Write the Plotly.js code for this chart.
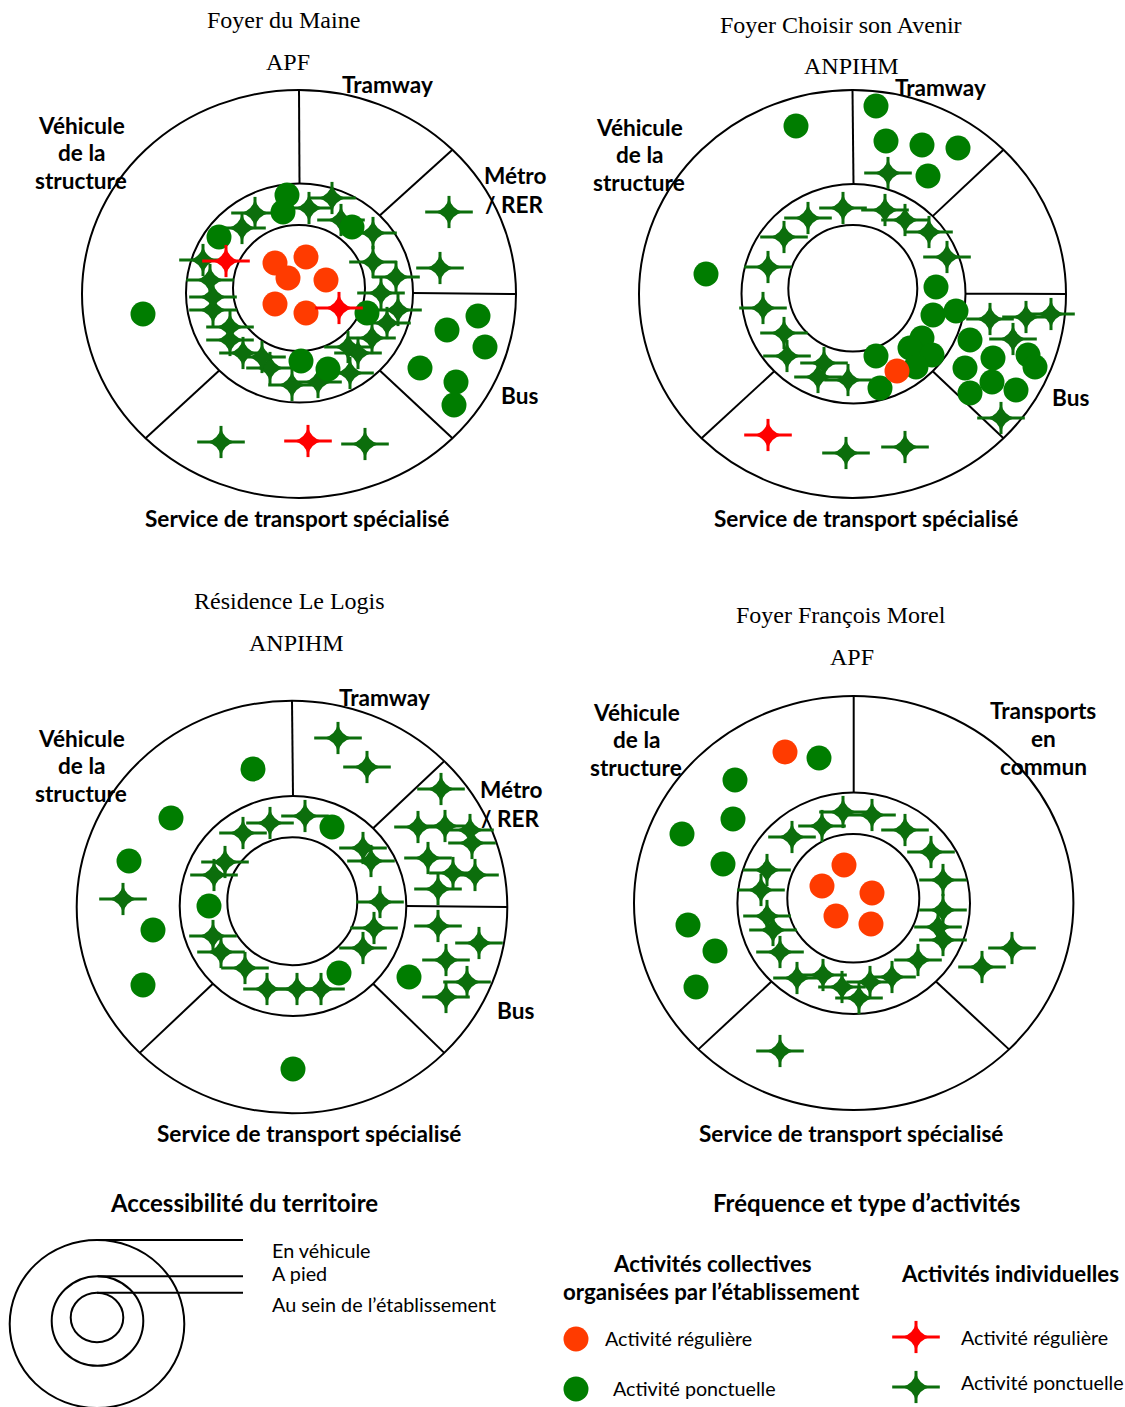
<!DOCTYPE html>
<html>
<head>
<meta charset="utf-8">
<script src="https://cdn.plot.ly/plotly-3.0.1.min.js"></script>
<style>
  html, body { margin: 0; padding: 0; background: #ffffff; }
  #chart { width: 1125px; height: 1407px; }
</style>
</head>
<body>
<div id="chart"></div>
<script>
// ---------------- DATA (positions, page pixels) ----------------
// Diagram titles
const diagramTitles = ["Foyer du Maine", "Foyer Choisir son Avenir", "Résidence Le Logis", "Foyer François Morel"];
const diagramOrgs = ["APF", "ANPIHM", "ANPIHM", "APF"];

// Foyer du Maine (APF)
const maineCollRegX = [275, 306, 288, 326, 275, 306];
const maineCollRegY = [263, 257, 278, 280, 304, 313];
const maineCollPonX = [287, 283, 219, 352, 367, 301, 328, 143, 478, 447, 485, 420, 456, 454];
const maineCollPonY = [195, 212, 237, 227, 313, 361, 369, 314, 316, 330, 347, 368, 382, 405];
const maineIndRegX = [226, 339, 308];
const maineIndRegY = [261, 308, 441];
const maineIndPonX = [449, 440, 221, 365, 255, 242, 309, 332, 341, 373, 373, 396, 381, 398, 387, 372, 358, 348, 350, 318, 292, 270, 262, 243, 230, 230, 213, 213, 210, 203];
const maineIndPonY = [212, 268, 442, 444, 213, 228, 208, 198, 220, 233, 262, 277, 293, 310, 323, 338, 353, 347, 373, 382, 385, 368, 357, 353, 340, 327, 310, 297, 280, 260];

// Foyer Choisir son Avenir (ANPIHM)
const avenirCollRegX = [897];
const avenirCollRegY = [371];
const avenirCollPonX = [796, 706, 876, 886, 922, 958, 928, 936, 933, 956, 922, 910, 932, 916, 876, 880, 970, 993, 1028, 1035, 965, 992, 1016, 970];
const avenirCollPonY = [126, 274, 106, 141, 145, 148, 176, 287, 315, 311, 338, 348, 355, 367, 356, 388, 340, 358, 355, 367, 368, 382, 390, 393];
const avenirIndRegX = [768];
const avenirIndRegY = [435];
const avenirIndPonX = [888, 846, 905, 990, 1026, 1051, 1013, 1001, 843, 808, 784, 885, 905, 929, 947, 768, 763, 784, 787, 824, 818, 848];
const avenirIndPonY = [173, 453, 447, 319, 317, 314, 339, 418, 208, 218, 237, 210, 220, 232, 257, 267, 308, 333, 356, 363, 377, 380];

// Résidence Le Logis (ANPIHM)
const logisCollRegX = [];
const logisCollRegY = [];
const logisCollPonX = [253, 171, 129, 153, 143, 293, 332, 209, 339, 409];
const logisCollPonY = [769, 818, 861, 930, 985, 1069, 827, 906, 973, 977];
const logisIndRegX = [];
const logisIndRegY = [];
const logisIndPonX = [123, 338, 367, 441, 418, 445, 470, 472, 428, 453, 475, 438, 438, 479, 446, 467, 446, 243, 270, 305, 225, 214, 363, 371, 380, 374, 363, 213, 221, 245, 267, 297, 321];
const logisIndPonY = [899, 738, 767, 789, 827, 826, 830, 843, 858, 873, 875, 889, 926, 943, 960, 982, 997, 833, 823, 816, 862, 875, 848, 861, 902, 928, 948, 936, 952, 968, 989, 989, 989];

// Foyer François Morel (APF)
const morelCollRegX = [785, 844, 822, 872, 836, 871];
const morelCollRegY = [752, 865, 886, 893, 916, 924];
const morelCollPonX = [819, 735, 733, 682, 723, 688, 715, 696];
const morelCollPonY = [758, 780, 819, 834, 864, 925, 951, 987];
const morelIndRegX = [];
const morelIndRegY = [];
const morelIndPonX = [780, 1012, 982, 843, 872, 822, 792, 905, 931, 767, 761, 943, 943, 938, 943, 767, 773, 780, 918, 892, 870, 797, 823, 842, 859];
const morelIndPonY = [1051, 948, 967, 812, 815, 826, 837, 830, 852, 870, 890, 880, 910, 927, 940, 916, 930, 952, 960, 977, 982, 978, 975, 987, 998];

// Sector labels
const sectorVehicle = ["Véhicule", "de la", "structure"];
const sectorTram = "Tramway";
const sectorMetro = ["Métro", "/ RER"];
const sectorBus = "Bus";
const sectorTC = ["Transports", "en", "commun"];
const sectorService = "Service de transport spécialisé";

// Legend texts
const legendAccessTitle = "Accessibilité du territoire";
const legendRings = ["En véhicule", "A pied", "Au sein de l’établissement"];
const legendFreqTitle = "Fréquence et type d’activités";
const legendCollTitle = ["Activités collectives", "organisées par l’établissement"];
const legendIndTitle = "Activités individuelles";
const legendItems = ["Activité régulière", "Activité ponctuelle"];

// ---------------- LAYOUT / STYLE ----------------
const C_ORANGE = "#ff3b00";
const C_GREEN_DOT = "#007d00";
const C_RED = "#ff0000";
const C_GREEN_STAR = "#0c6e0c";
const SANS = "Lato, 'Open Sans', sans-serif";
const SERIF = "'Liberation Serif', 'Times New Roman', serif";

// geometry of each ring diagram: [cx, cy, rx, ry] for outer, middle, inner, and radial line angles
const geoms = [
  {o: [299, 294, 217, 204], m: [299.5, 293, 113.5, 109.5], i: [299, 288, 66, 63], a: [90, 45, 0, -45, -135]},
  {o: [852.5, 294, 213.5, 204], m: [853.5, 293.7, 112, 109.7], i: [852.8, 288.3, 64.5, 63.3], a: [90, 45, 0, -45, -135]},
  {o: [292, 907, 215.3, 206.3], m: [293, 906, 113.3, 110], i: [292.3, 901.3, 65, 64], a: [90, 45, 0, -45, -135]},
  {o: [853.7, 903, 219.7, 207], m: [853.7, 903.3, 116.3, 110.7], i: [853.3, 898.3, 66, 64.3], a: [90, -45, -135]}
];

const shapes = [];
function ell(c, w) {
  shapes.push({type: "circle", xref: "x", yref: "y", layer: "below",
    x0: c[0] - c[2], x1: c[0] + c[2], y0: c[1] - c[3], y1: c[1] + c[3],
    line: {color: "#000", width: w || 2}});
}
function seg(x0, y0, x1, y1, w) {
  shapes.push({type: "line", xref: "x", yref: "y", layer: "below", x0, y0, x1, y1,
    line: {color: "#000", width: w || 2}});
}
geoms.forEach(g => {
  ell(g.o); ell(g.m); ell(g.i);
  g.a.forEach(deg => {
    const t = deg * Math.PI / 180;
    seg(g.m[0] + g.m[2] * Math.cos(t), g.m[1] - g.m[3] * Math.sin(t),
        g.o[0] + g.o[2] * Math.cos(t), g.o[1] - g.o[3] * Math.sin(t));
  });
});
// legend rings
const lg = {o: [97, 1324, 87.3, 84], m: [97.5, 1321, 45.8, 44.8], i: [97, 1317.5, 26.3, 24.8]};
ell(lg.o, 2); ell(lg.m, 2); ell(lg.i, 2);
[lg.o, lg.m, lg.i].forEach(c => seg(c[0], c[1] - c[3], 243, c[1] - c[3], 2));

// ---------------- TRACES ----------------
const traces = [];
function dots(xs, ys, color) {
  traces.push({type: "scatter", mode: "markers", x: xs, y: ys, hoverinfo: "skip", showlegend: false,
    marker: {symbol: "circle", size: 25, color: color, line: {width: 0}}});
}
function stars(xs, ys, color) {
  traces.push({type: "scatter", mode: "markers", x: xs, y: ys, hoverinfo: "skip", showlegend: false,
    marker: {symbol: "line-ew", size: 34, color: color, line: {color: color, width: 3}}});
  traces.push({type: "scatter", mode: "markers", x: xs, y: ys, hoverinfo: "skip", showlegend: false,
    marker: {symbol: "line-ns", size: 23, color: color, line: {color: color, width: 3}}});
  traces.push({type: "scatter", mode: "markers", x: xs, y: ys, hoverinfo: "skip", showlegend: false,
    marker: {symbol: "star-diamond", size: 20, color: color, line: {width: 0}}});
}
const cat = (...arrs) => [].concat(...arrs);

stars(cat(maineIndPonX, avenirIndPonX, logisIndPonX, morelIndPonX),
      cat(maineIndPonY, avenirIndPonY, logisIndPonY, morelIndPonY), C_GREEN_STAR);
dots(cat(maineCollPonX, avenirCollPonX, logisCollPonX, morelCollPonX),
     cat(maineCollPonY, avenirCollPonY, logisCollPonY, morelCollPonY), C_GREEN_DOT);
dots(cat(maineCollRegX, avenirCollRegX, logisCollRegX, morelCollRegX),
     cat(maineCollRegY, avenirCollRegY, logisCollRegY, morelCollRegY), C_ORANGE);
stars(cat(maineIndRegX, avenirIndRegX, logisIndRegX, morelIndRegX),
      cat(maineIndRegY, avenirIndRegY, logisIndRegY, morelIndRegY), C_RED);

// legend symbols
dots([576], [1339], C_ORANGE);
dots([576], [1389], C_GREEN_DOT);
stars([916], [1337], C_RED);
stars([916], [1387], C_GREEN_STAR);

// ---------------- ANNOTATIONS ----------------
const ann = [];
function txt(x, y, t, opt) {
  opt = opt || {};
  ann.push({x, y, xref: "x", yref: "y", text: t, showarrow: false,
    xanchor: opt.xa || "center", yanchor: "middle",
    font: {family: opt.f || SANS, size: opt.s || 22.6, color: "#000", weight: opt.w === undefined ? 700 : opt.w}});
}
// titles
const titlePos = [[283, 20, 288, 62], [841, 25, 851, 66], [289, 601, 296, 643], [841, 615, 852, 657]];
titlePos.forEach((p, k) => {
  txt(p[0], p[1], diagramTitles[k], {f: SERIF, s: 24, w: 400});
  txt(p[2], p[3], diagramOrgs[k], {f: SERIF, s: 24, w: 400});
});
// vehicle labels
[[81, 125], [639, 127], [81, 738], [636, 712]].forEach(p => {
  sectorVehicle.forEach((t, j) => txt(p[0], p[1] + j * 27.7, t));
});
// tramway
[[387, 84], [940, 87], [384, 697]].forEach(p => txt(p[0], p[1], sectorTram));
// metro
[[515, 175], [511, 789]].forEach(p => {
  txt(p[0], p[1], sectorMetro[0]);
  txt(p[0] - 1, p[1] + 29, sectorMetro[1]);
});
// bus
[[519, 395], [1070, 397], [515, 1010]].forEach(p => txt(p[0], p[1], sectorBus));
// transports en commun
sectorTC.forEach((t, j) => txt(1043, 710 + j * 28, t));
// service
[[297, 518], [866, 518], [309, 1133], [851, 1133]].forEach(p => txt(p[0], p[1], sectorService));

// legend
txt(244, 1202, legendAccessTitle, {s: 24});
txt(270, 1250, legendRings[0], {xa: "left", s: 19.8, w: 400});
txt(270, 1273, legendRings[1], {xa: "left", s: 19.8, w: 400});
txt(270, 1304, legendRings[2], {xa: "left", s: 19.8, w: 400});
txt(866, 1202, legendFreqTitle, {s: 24});
txt(712, 1263, legendCollTitle[0], {s: 22.3});
txt(711, 1291, legendCollTitle[1], {s: 22.3});
txt(899, 1273, legendIndTitle, {xa: "left", s: 22.3});
txt(603, 1338, legendItems[0], {xa: "left", s: 19.7, w: 400});
txt(611, 1388, legendItems[1], {xa: "left", s: 19.7, w: 400});
txt(959, 1337, legendItems[0], {xa: "left", s: 19.7, w: 400});
txt(959, 1382, legendItems[1], {xa: "left", s: 19.7, w: 400});

const layout = {
  width: 1125, height: 1407,
  margin: {l: 0, r: 0, t: 0, b: 0, pad: 0},
  paper_bgcolor: "#ffffff", plot_bgcolor: "#ffffff",
  showlegend: false,
  xaxis: {range: [0, 1125], visible: false, fixedrange: true},
  yaxis: {range: [1407, 0], visible: false, fixedrange: true},
  shapes: shapes,
  annotations: ann,
  hovermode: false
};
Plotly.newPlot("chart", traces, layout, {staticPlot: true, displayModeBar: false});
</script>
</body>
</html>
